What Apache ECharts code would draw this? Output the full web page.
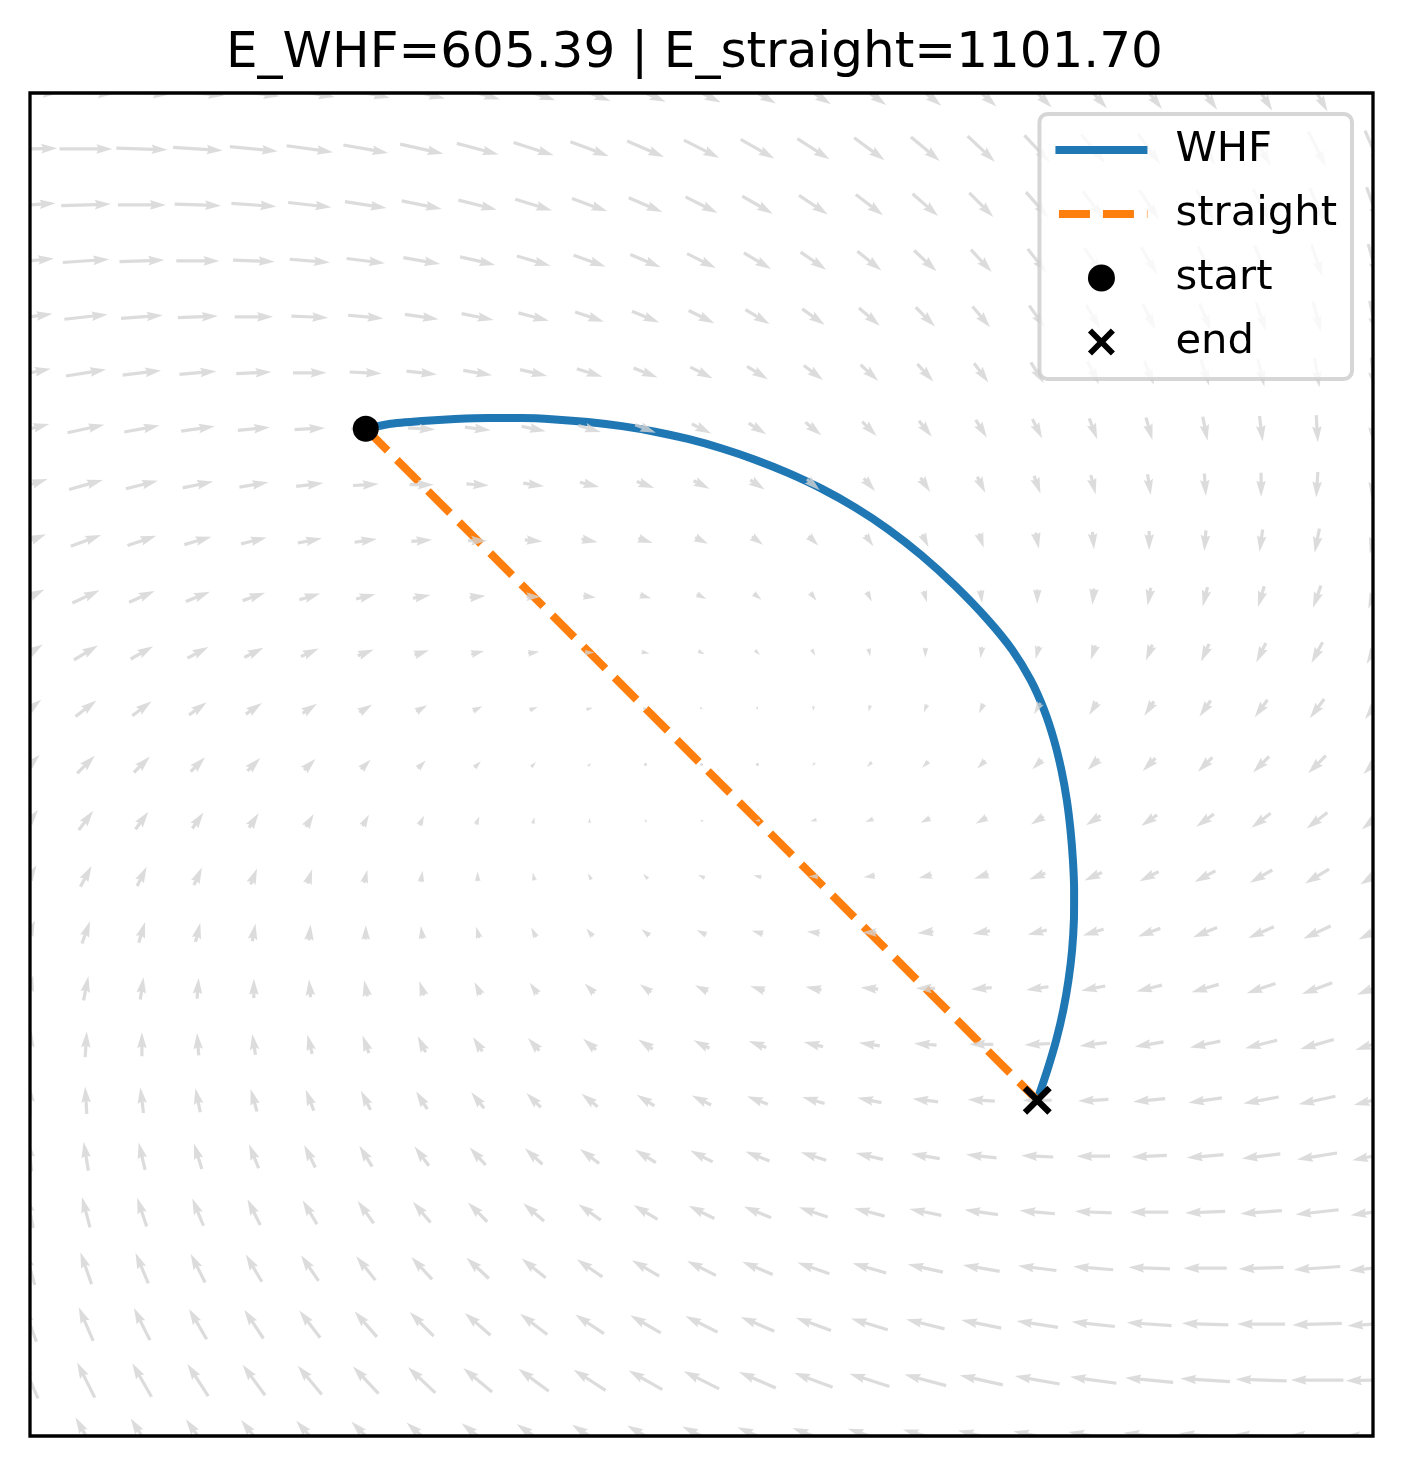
<!DOCTYPE html>
<html>
<head>
<meta charset="utf-8">
<script src="https://cdn.jsdelivr.net/npm/echarts/dist/echarts.min.js"></script>
<style>
  html, body { margin: 0; padding: 0; background: #fff; }
  #chart { width: 1403px; height: 1466px; }
</style>
</head>
<body>
<div id="chart"></div>
<script>
// 网格坐标（列：左到右，行：上到下）
const gridX = [-2, -1.8333, -1.6667, -1.5, -1.3333, -1.1667, -1, -0.8333, -0.6667, -0.5, -0.3333, -0.1667, 0,
  0.1667, 0.3333, 0.5, 0.6667, 0.8333, 1, 1.1667, 1.3333, 1.5, 1.6667, 1.8333, 2];
const gridY = [2, 1.8333, 1.6667, 1.5, 1.3333, 1.1667, 1, 0.8333, 0.6667, 0.5, 0.3333, 0.1667, 0,
  -0.1667, -0.3333, -0.5, -0.6667, -0.8333, -1, -1.1667, -1.3333, -1.5, -1.6667, -1.8333, -2];

// 向量场分量（每行对应 gridY 的一行）
const fieldU = [
  [36,35,34,33,32,31,30,29,28,27,26,25,24,23,22,21,20,19,18,17,16,15,14,13,12],
  [34,33,32,31,30,29,28,27,26,25,24,23,22,21,20,19,18,17,16,15,14,13,12,11,10],
  [32,31,30,29,28,27,26,25,24,23,22,21,20,19,18,17,16,15,14,13,12,11,10,9,8],
  [30,29,28,27,26,25,24,23,22,21,20,19,18,17,16,15,14,13,12,11,10,9,8,7,6],
  [28,27,26,25,24,23,22,21,20,19,18,17,16,15,14,13,12,11,10,9,8,7,6,5,4],
  [26,25,24,23,22,21,20,19,18,17,16,15,14,13,12,11,10,9,8,7,6,5,4,3,2],
  [24,23,22,21,20,19,18,17,16,15,14,13,12,11,10,9,8,7,6,5,4,3,2,1,0],
  [22,21,20,19,18,17,16,15,14,13,12,11,10,9,8,7,6,5,4,3,2,1,0,-1,-2],
  [20,19,18,17,16,15,14,13,12,11,10,9,8,7,6,5,4,3,2,1,0,-1,-2,-3,-4],
  [18,17,16,15,14,13,12,11,10,9,8,7,6,5,4,3,2,1,0,-1,-2,-3,-4,-5,-6],
  [16,15,14,13,12,11,10,9,8,7,6,5,4,3,2,1,0,-1,-2,-3,-4,-5,-6,-7,-8],
  [14,13,12,11,10,9,8,7,6,5,4,3,2,1,0,-1,-2,-3,-4,-5,-6,-7,-8,-9,-10],
  [12,11,10,9,8,7,6,5,4,3,2,1,0,-1,-2,-3,-4,-5,-6,-7,-8,-9,-10,-11,-12],
  [10,9,8,7,6,5,4,3,2,1,0,-1,-2,-3,-4,-5,-6,-7,-8,-9,-10,-11,-12,-13,-14],
  [8,7,6,5,4,3,2,1,0,-1,-2,-3,-4,-5,-6,-7,-8,-9,-10,-11,-12,-13,-14,-15,-16],
  [6,5,4,3,2,1,0,-1,-2,-3,-4,-5,-6,-7,-8,-9,-10,-11,-12,-13,-14,-15,-16,-17,-18],
  [4,3,2,1,0,-1,-2,-3,-4,-5,-6,-7,-8,-9,-10,-11,-12,-13,-14,-15,-16,-17,-18,-19,-20],
  [2,1,0,-1,-2,-3,-4,-5,-6,-7,-8,-9,-10,-11,-12,-13,-14,-15,-16,-17,-18,-19,-20,-21,-22],
  [0,-1,-2,-3,-4,-5,-6,-7,-8,-9,-10,-11,-12,-13,-14,-15,-16,-17,-18,-19,-20,-21,-22,-23,-24],
  [-2,-3,-4,-5,-6,-7,-8,-9,-10,-11,-12,-13,-14,-15,-16,-17,-18,-19,-20,-21,-22,-23,-24,-25,-26],
  [-4,-5,-6,-7,-8,-9,-10,-11,-12,-13,-14,-15,-16,-17,-18,-19,-20,-21,-22,-23,-24,-25,-26,-27,-28],
  [-6,-7,-8,-9,-10,-11,-12,-13,-14,-15,-16,-17,-18,-19,-20,-21,-22,-23,-24,-25,-26,-27,-28,-29,-30],
  [-8,-9,-10,-11,-12,-13,-14,-15,-16,-17,-18,-19,-20,-21,-22,-23,-24,-25,-26,-27,-28,-29,-30,-31,-32],
  [-10,-11,-12,-13,-14,-15,-16,-17,-18,-19,-20,-21,-22,-23,-24,-25,-26,-27,-28,-29,-30,-31,-32,-33,-34],
  [-12,-13,-14,-15,-16,-17,-18,-19,-20,-21,-22,-23,-24,-25,-26,-27,-28,-29,-30,-31,-32,-33,-34,-35,-36]
];
const fieldV = [
  [0,-1,-2,-3,-4,-5,-6,-7,-8,-9,-10,-11,-12,-13,-14,-15,-16,-17,-18,-19,-20,-21,-22,-23,-24],
  [1,0,-1,-2,-3,-4,-5,-6,-7,-8,-9,-10,-11,-12,-13,-14,-15,-16,-17,-18,-19,-20,-21,-22,-23],
  [2,1,0,-1,-2,-3,-4,-5,-6,-7,-8,-9,-10,-11,-12,-13,-14,-15,-16,-17,-18,-19,-20,-21,-22],
  [3,2,1,0,-1,-2,-3,-4,-5,-6,-7,-8,-9,-10,-11,-12,-13,-14,-15,-16,-17,-18,-19,-20,-21],
  [4,3,2,1,0,-1,-2,-3,-4,-5,-6,-7,-8,-9,-10,-11,-12,-13,-14,-15,-16,-17,-18,-19,-20],
  [5,4,3,2,1,0,-1,-2,-3,-4,-5,-6,-7,-8,-9,-10,-11,-12,-13,-14,-15,-16,-17,-18,-19],
  [6,5,4,3,2,1,0,-1,-2,-3,-4,-5,-6,-7,-8,-9,-10,-11,-12,-13,-14,-15,-16,-17,-18],
  [7,6,5,4,3,2,1,0,-1,-2,-3,-4,-5,-6,-7,-8,-9,-10,-11,-12,-13,-14,-15,-16,-17],
  [8,7,6,5,4,3,2,1,0,-1,-2,-3,-4,-5,-6,-7,-8,-9,-10,-11,-12,-13,-14,-15,-16],
  [9,8,7,6,5,4,3,2,1,0,-1,-2,-3,-4,-5,-6,-7,-8,-9,-10,-11,-12,-13,-14,-15],
  [10,9,8,7,6,5,4,3,2,1,0,-1,-2,-3,-4,-5,-6,-7,-8,-9,-10,-11,-12,-13,-14],
  [11,10,9,8,7,6,5,4,3,2,1,0,-1,-2,-3,-4,-5,-6,-7,-8,-9,-10,-11,-12,-13],
  [12,11,10,9,8,7,6,5,4,3,2,1,0,-1,-2,-3,-4,-5,-6,-7,-8,-9,-10,-11,-12],
  [13,12,11,10,9,8,7,6,5,4,3,2,1,0,-1,-2,-3,-4,-5,-6,-7,-8,-9,-10,-11],
  [14,13,12,11,10,9,8,7,6,5,4,3,2,1,0,-1,-2,-3,-4,-5,-6,-7,-8,-9,-10],
  [15,14,13,12,11,10,9,8,7,6,5,4,3,2,1,0,-1,-2,-3,-4,-5,-6,-7,-8,-9],
  [16,15,14,13,12,11,10,9,8,7,6,5,4,3,2,1,0,-1,-2,-3,-4,-5,-6,-7,-8],
  [17,16,15,14,13,12,11,10,9,8,7,6,5,4,3,2,1,0,-1,-2,-3,-4,-5,-6,-7],
  [18,17,16,15,14,13,12,11,10,9,8,7,6,5,4,3,2,1,0,-1,-2,-3,-4,-5,-6],
  [19,18,17,16,15,14,13,12,11,10,9,8,7,6,5,4,3,2,1,0,-1,-2,-3,-4,-5],
  [20,19,18,17,16,15,14,13,12,11,10,9,8,7,6,5,4,3,2,1,0,-1,-2,-3,-4],
  [21,20,19,18,17,16,15,14,13,12,11,10,9,8,7,6,5,4,3,2,1,0,-1,-2,-3],
  [22,21,20,19,18,17,16,15,14,13,12,11,10,9,8,7,6,5,4,3,2,1,0,-1,-2],
  [23,22,21,20,19,18,17,16,15,14,13,12,11,10,9,8,7,6,5,4,3,2,1,0,-1],
  [24,23,22,21,20,19,18,17,16,15,14,13,12,11,10,9,8,7,6,5,4,3,2,1,0]
];

// WHF 路径
const whfX = [-1, -0.9337, -0.8325, -0.7342, -0.6359, -0.5346, -0.4363, -0.3381, -0.2368, -0.1385,
  -0.0402, 0.0611, 0.1594, 0.2576, 0.3589, 0.4572, 0.5555, 0.6567, 0.7550, 0.8533,
  0.9257, 0.9802, 1.0204, 1.0499, 1.0719, 1.0880, 1.0990, 1.1062, 1.1098, 1.1092,
  1.1038, 1.0931, 1.0776, 1.0566, 1.0302, 1];
const whfY = [1, 1.0136, 1.0228, 1.0287, 1.0317, 1.0317, 1.0278, 1.0201, 1.0079, 0.9912,
  0.9695, 0.9412, 0.9078, 0.8685, 0.8208, 0.7657, 0.7008, 0.6219, 0.5325, 0.4304,
  0.3410, 0.2517, 0.1623, 0.0730, -0.0164, -0.1057, -0.1951, -0.2844, -0.3738, -0.4631,
  -0.5525, -0.6419, -0.7312, -0.8206, -0.9099, -1];

// 起点和终点
const startPoint = [-1, 1];
const endPoint = [1, -1];

const titleText = 'E_WHF=605.39 | E_straight=1101.70';

// 箭头样式（仿 matplotlib quiver）
const ARROW_PX = 1.6;     // 每单位向量长度对应的像素
const SHAFT_W = 3.2;
const ARROW_COLOR = 'rgba(211,211,211,0.8)';
const FONT = 'DejaVu Sans';

const quiverData = [];
gridY.forEach((y, j) => {
  gridX.forEach((x, i) => {
    quiverData.push([x, y, fieldU[j][i], fieldV[j][i]]);
  });
});

function renderArrow(params, api) {
  const c = api.coord([api.value(0), api.value(1)]);
  const u = api.value(2);
  const v = api.value(3);
  const len = Math.hypot(u, v) * ARROW_PX;
  const w = SHAFT_W;
  let pts = [];
  if (len < w) {
    // 太短，画一个小点
    for (let k = 0; k < 6; k++) {
      const t = k * Math.PI / 3;
      pts.push([c[0] + Math.cos(t) * w / 2, c[1] + Math.sin(t) * w / 2]);
    }
    return {type: 'polygon', shape: {points: pts}, style: {fill: ARROW_COLOR}};
  }
  const minsh = 5 * w;
  let xs, ys;
  if (len >= minsh) {
    xs = [0, len - 4.5 * w, len - 5 * w, len];
    ys = [0.5 * w, 0.5 * w, 1.5 * w, 0];
  } else {
    const s = len / minsh;
    xs = [0, 0.5 * w * s, 0, len];
    ys = [0.5 * w * s, 0.5 * w * s, 1.5 * w * s, 0];
  }
  const idx = [0, 1, 2, 3, 2, 1, 0];
  const sgn = [1, 1, 1, 1, -1, -1, -1];
  const ang = Math.atan2(-v, u);
  const ca = Math.cos(ang), sa = Math.sin(ang);
  pts = idx.map((k, n) => {
    const px = xs[k] - len / 2;
    const py = ys[k] * sgn[n];
    return [c[0] + px * ca - py * sa, c[1] + px * sa + py * ca];
  });
  return {type: 'polygon', shape: {points: pts}, style: {fill: ARROW_COLOR}};
}

const X_MARK = 'path://M-9,9 L9,-9 L50,32 L91,-9 L109,9 L68,50 L109,91 L91,109 L50,68 L9,109 L-9,91 L32,50 Z';

const chart = echarts.init(document.getElementById('chart'), null, {renderer: 'canvas'});

const option = {
  animation: false,
  backgroundColor: '#fff',
  title: {
    text: titleText,
    left: 221,
    top: 24,
    textStyle: {fontFamily: FONT, fontSize: 50, fontWeight: 'normal', color: '#000'}
  },
  legend: {
    orient: 'vertical',
    right: 51,
    top: 114,
    z: 10,
    itemWidth: 92,
    itemHeight: 27,
    itemGap: 22,
    padding: [15, 15, 16, 12],
    backgroundColor: 'rgba(255,255,255,0.8)',
    borderColor: 'rgba(204,204,204,0.8)',
    borderWidth: 4,
    borderRadius: 8,
    lineStyle: {width: 8, dashOffset: 40.5},
    textStyle: {fontFamily: FONT, fontSize: 41.7, color: '#000', padding: [0, 0, 0, 23]},
    data: [
      {name: 'WHF', itemStyle: {opacity: 0}},
      {name: 'straight', itemStyle: {opacity: 0}},
      'start',
      'end'
    ]
  },
  grid: {
    left: 30,
    top: 93,
    width: 1343,
    height: 1343,
    show: true,
    z: 6,
    borderColor: '#000',
    borderWidth: 3.3,
    backgroundColor: 'transparent',
    outerBoundsMode: 'none'
  },
  xAxis: {type: 'value', min: -2, max: 2, show: false},
  yAxis: {type: 'value', min: -2, max: 2, show: false},
  series: [
    {
      name: 'WHF',
      type: 'line',
      data: whfX.map((x, k) => [x, whfY[k]]),
      symbol: 'none',
      smooth: 0.2,
      z: 2,
      lineStyle: {color: '#1f77b4', width: 8},
      itemStyle: {color: '#1f77b4'}
    },
    {
      name: 'straight',
      type: 'line',
      data: [startPoint, endPoint],
      symbol: 'none',
      z: 2,
      lineStyle: {color: '#ff7f0e', width: 8, type: [31, 13]},
      itemStyle: {color: '#ff7f0e'}
    },
    {
      name: 'field',
      type: 'custom',
      data: quiverData,
      renderItem: renderArrow,
      clip: true,
      z: 3,
      silent: true
    },
    {
      name: 'start',
      type: 'scatter',
      data: [startPoint],
      symbol: 'circle',
      symbolSize: 26,
      z: 5,
      itemStyle: {color: '#000', opacity: 1}
    },
    {
      name: 'end',
      type: 'scatter',
      data: [endPoint],
      symbol: X_MARK,
      symbolSize: 29,
      z: 5,
      itemStyle: {color: '#000', opacity: 1}
    }
  ]
};

chart.setOption(option);
</script>
</body>
</html>
